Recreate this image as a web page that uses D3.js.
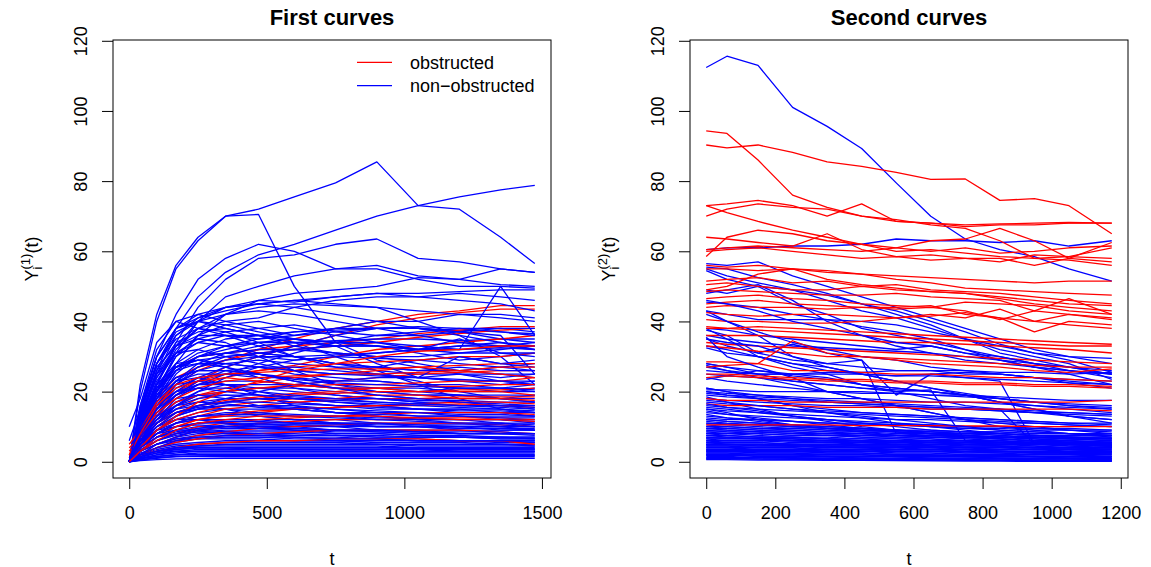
<!DOCTYPE html>
<html lang="en">
<head>
<meta charset="UTF-8">
<title>First and second curves</title>
<script src="https://d3js.org/d3.v7.min.js"></script>
<style>
  body { margin: 0; background: #fff; }
  svg { display: block; font-family: "Liberation Sans", Arial, Helvetica, sans-serif; }
  .tick text { font-size: 18px; fill: #000; }
  .tick line { stroke: #000; }
</style>
</head>
<body>
<svg width="1151" height="567"></svg>
<script>
// time grids
const t1 = [0, 40, 100, 170, 250, 350, 470, 600, 750, 900, 1050, 1200, 1350, 1474];
const t2 = [0, 60, 150, 250, 350, 450, 550, 650, 750, 850, 950, 1050, 1174];

// first curves, obstructed
const red1 = [
  [0, 8, 16, 22, 26, 29, 32, 35, 38, 40, 42, 43, 44.5, 44.5],
  [0, 6, 13, 19, 23, 27, 30, 33, 36, 39, 41, 42.5, 43.5, 43.5],
  [1, 10, 20, 27, 30, 31, 32, 33, 34, 35, 36.5, 37.5, 38.5, 38.5],
  [0, 9, 18, 24, 27, 29, 31, 32, 33, 34, 35.5, 36.5, 37.5, 38],
  [0, 7, 14, 19, 22, 24, 26, 27.5, 30, 32, 33, 34, 35, 36],
  [2, 8, 15, 20, 23, 25, 26, 27, 28, 28.5, 29, 30, 30, 31],
  [0, 6, 12, 16, 19, 21, 22.5, 24, 25, 26, 27, 27.5, 28, 28],
  [0, 5, 11, 15, 18, 20, 21, 22, 23, 24, 25, 25.5, 26, 26],
  [3, 7, 13, 17, 19, 20, 21, 21.5, 22, 22, 22.5, 23, 23, 24],
  [0, 5, 10, 14, 16, 17.5, 18.5, 19.5, 20, 21, 21.5, 21.5, 22, 22],
  [0, 6, 11, 14, 16, 17, 18, 19, 19.5, 20, 20, 20.5, 20.5, 21],
  [0, 4, 8, 11, 13, 15, 16, 17, 17.5, 18, 18, 18.5, 18.5, 18.5],
  [0, 4, 8, 10, 12, 13, 14, 15, 15.5, 16, 16, 16.5, 16, 15.5],
  [0, 3, 6, 8, 10, 11, 12, 12.5, 13, 13.5, 14, 14, 14, 13.5],
  [0, 3, 5, 7, 9, 10, 11, 11.5, 12, 12, 12.5, 12.5, 12.5, 12],
  [0, 2, 4, 6, 7.5, 8.5, 9.5, 10, 10.5, 11, 11, 11, 10.5, 10],
  [0, 2, 4, 5.5, 6.5, 7.5, 8, 8.5, 9, 9, 9, 9, 8.5, 8],
  [0, 2, 3, 4, 5, 5.5, 6, 6, 6.5, 6.5, 6.5, 6, 6, 5],
  [0, 5, 9, 12, 14, 16, 17, 18, 18, 19, 19, 18, 18, 17.5],
  [4, 7, 14, 18, 21, 23, 24, 24.5, 25, 25, 25.5, 26, 27, 27],
  [0, 3, 7, 10, 12, 13.5, 14.5, 15, 15.5, 16, 16.5, 17, 17, 16.5],
  [5, 9, 17, 22, 24, 25, 25.5, 26, 26.5, 26.5, 27, 26, 25, 24],
  [0, 4, 9, 13, 17, 20, 23, 26, 28, 30, 31.5, 32, 33, 33],
  [2, 8, 16, 21, 23, 24, 23, 22, 21, 21, 20, 20, 20, 19],
  [0, 3, 6, 9, 11, 12, 13, 13, 13, 13, 12.5, 12, 12, 11.5]
];

// first curves, non-obstructed
const blue1 = [
  [0, 22, 42, 56, 64, 70, 72, 75.5, 79.5, 85.5, 73, 72, 64, 56.5],
  [0, 20, 40, 55, 63, 70, 70.5, 50, 34, 29, 27, 25, 23, 22],
  [0, 12, 26, 38, 47, 54, 59, 62, 66, 70, 73, 75.5, 77.5, 78.8],
  [0, 10, 22, 34, 44, 52, 58, 59, 62, 63.5, 58, 57, 55, 54],
  [0, 14, 30, 42, 52, 58, 62, 60, 55, 56, 53, 52, 55, 54],
  [0, 9, 20, 31, 40, 47, 50, 53, 55, 55, 52, 50, 50, 49.5],
  [0, 8, 18, 28, 36, 42, 46, 48, 49, 50, 52.5, 52, 50.5, 50],
  [0, 12, 25, 36, 41, 44, 45, 46, 47, 48, 48, 48.5, 49, 49],
  [0, 15, 30, 38, 41, 43, 45, 46, 45, 44, 40, 36, 30, 22],
  [0, 10, 22, 33, 40, 44, 46, 45.5, 47, 48, 47, 46, 45, 43],
  [0, 16, 32, 40, 42, 40, 38, 36, 38, 40, 40, 42, 41, 40],
  [10, 18, 34, 40, 38, 36, 33, 30, 27, 25, 23, 20, 18, 17],
  [0, 14, 28, 37, 40, 38, 36, 34, 30, 26, 22, 18, 15, 14],
  [0, 12, 25, 33, 36, 36, 35, 36, 37, 38, 38, 37.5, 37, 36.5],
  [0, 11, 23, 31, 35, 37, 38, 39, 37, 36, 36, 37, 35, 35],
  [0, 13, 26, 34, 37, 38, 36, 33, 31, 30, 30, 31, 32, 33],
  [0, 10, 20, 28, 32, 35, 36, 37, 37.5, 38, 38, 37, 38, 37],
  [0, 9, 19, 27, 31, 33, 34, 34, 34.5, 35, 35, 34.5, 35, 34],
  [0, 8, 17, 25, 30, 32, 34, 35, 34, 33, 31, 29, 30, 31],
  [0, 12, 24, 31, 34, 33, 31, 30, 30.5, 31, 32, 32, 32.5, 32],
  [6, 15, 28, 35, 38, 37, 34, 30, 28, 27, 29, 30, 28, 29],
  [0, 9, 18, 26, 30, 31, 30, 29, 30, 29.5, 29, 28, 27, 28],
  [0, 10, 20, 27, 29, 30, 31, 32, 31, 30, 28, 26, 27, 26],
  [0, 8, 16, 23, 27, 29, 30, 30, 28, 26, 25, 25, 24, 25],
  [0, 13, 25, 31, 32, 30, 28, 26, 25, 25, 24, 23, 22, 23],
  [0, 7, 15, 22, 26, 28, 29, 28, 27, 27, 26, 26, 25, 24],
  [0, 11, 21, 27, 29, 28, 27, 25, 24, 23, 22, 22, 21, 22],
  [0, 6, 13, 19, 23, 26, 27, 27, 26, 25, 24, 23, 23, 22],
  [0, 9, 17, 23, 25, 25, 24, 24, 23, 23, 22, 21, 21, 20],
  [0, 14, 27, 33, 35, 34, 30, 26, 22, 20, 19, 19, 18, 19],
  [0, 8, 15, 21, 24, 25, 25, 24, 22, 21, 21, 20, 20, 20],
  [0, 10, 19, 24, 26, 26, 25, 23, 21, 20, 19, 19, 18, 18],
  [0, 7, 14, 19, 22, 23, 23, 22, 21, 20, 20, 19, 19, 19],
  [0, 6, 12, 17, 20, 22, 22, 22, 21, 21, 20, 21, 20, 21],
  [0, 12, 22, 28, 29, 27, 24, 21, 19, 18, 17, 16, 16, 15],
  [0, 8, 16, 20, 22, 22, 21, 20, 19, 18, 17, 17, 16, 16],
  [0, 5, 11, 16, 19, 20, 21, 21, 20, 19, 18, 18, 18, 17],
  [0, 9, 17, 22, 23, 22, 20, 18, 17, 16, 15, 15, 14, 14],
  [0, 7, 13, 17, 19, 19, 18, 17, 16, 16, 15, 15, 15, 14],
  [0, 6, 11, 15, 17, 18, 18, 17, 16, 15, 15, 14, 14, 13],
  [0, 10, 18, 23, 24, 22, 19, 16, 14, 13, 12, 12, 11, 11],
  [0, 5, 10, 13, 15, 16, 16, 16, 15, 14, 14, 13, 13, 13],
  [0, 8, 14, 18, 19, 18, 16, 15, 14, 13, 12, 12, 12, 11],
  [0, 4, 9, 12, 14, 15, 15, 15, 14, 14, 13, 13, 12, 12],
  [0, 6, 11, 14, 15, 15, 14, 13, 13, 12, 12, 11, 11, 10],
  [0, 5, 9, 12, 13, 13, 13, 12, 12, 11, 11, 11, 10, 10],
  [0, 7, 12, 15, 16, 15, 13, 12, 11, 10, 10, 9, 9, 9],
  [0, 4, 8, 11, 12, 12, 12, 12, 11, 11, 10, 10, 10, 9],
  [0, 3, 7, 10, 11, 12, 12, 11, 11, 10, 10, 10, 9, 9],
  [0, 5, 9, 11, 12, 11, 11, 10, 10, 9, 9, 9, 8, 8],
  [0, 4, 7, 9, 10, 10, 10, 10, 9, 9, 9, 8, 8, 8],
  [0, 3, 6, 8, 9, 9.5, 9.5, 9, 9, 8.5, 8.5, 8, 8, 7.5],
  [0, 6, 10, 12, 12, 11, 10, 9, 8, 8, 7.5, 7, 7, 7],
  [0, 3, 5, 7, 8, 8.5, 8.5, 8.5, 8, 8, 7.5, 7.5, 7, 7],
  [0, 2, 5, 6.5, 7.5, 8, 8, 8, 7.5, 7.5, 7, 7, 6.5, 6.5],
  [0, 4, 7, 8, 8.5, 8, 7.5, 7, 7, 6.5, 6.5, 6, 6, 6],
  [0, 2, 4, 5.5, 6.5, 7, 7, 7, 6.5, 6.5, 6, 6, 6, 5.5],
  [0, 3, 5, 6, 6.5, 6.5, 6.5, 6, 6, 5.5, 5.5, 5.5, 5, 5],
  [0, 2, 3.5, 4.5, 5, 5.5, 5.5, 5.5, 5.5, 5, 5, 5, 5, 4.5],
  [0, 1.5, 3, 4, 4.5, 5, 5, 5, 5, 5, 4.5, 4.5, 4.5, 4.5],
  [0, 2, 3, 3.5, 4, 4, 4, 4, 4, 4, 4, 3.5, 3.5, 3.5],
  [0, 1, 2, 3, 3.5, 3.5, 3.5, 3.5, 3.5, 3.5, 3.5, 3, 3, 3],
  [0, 1, 1.5, 2, 2.5, 2.5, 2.5, 2.5, 2.5, 2.5, 2.5, 2.5, 2.5, 2.5],
  [0, 0.5, 1, 1.5, 1.5, 1.5, 1.5, 1.5, 1.5, 1.5, 1.5, 1.5, 1.5, 1.5],
  [0, 0.3, 0.6, 0.8, 0.9, 1, 1, 1, 1, 1, 1, 1, 1, 1],
  [0, 1.5, 2.5, 3, 3, 3, 3, 3, 3, 3, 2.8, 2.8, 2.8, 2.8],
  [0, 2.5, 4, 5, 5.5, 6, 6, 6, 6, 6, 6, 6, 5.5, 5.5],
  [0, 3.5, 6, 7.5, 8.5, 9, 9, 9, 8.5, 8.5, 8, 8, 8, 8],
  [0, 4.5, 8, 10, 11, 11, 10.5, 10.5, 10, 10, 10, 9.5, 9.5, 9.5],
  [0, 6, 12, 16, 18, 19, 19, 18.5, 18, 18, 17.5, 17.5, 17, 17],
  [0, 11, 21, 27, 30, 31, 32, 32, 33, 33, 32, 33, 34, 33],
  [0, 9, 20, 30, 36, 39, 40, 38, 36, 34, 32, 35, 31, 30],
  [0, 13, 28, 38, 40, 39, 37, 35, 33, 28, 24, 30, 28, 27],
  [0, 10, 21, 30, 34, 36, 36, 35, 34, 34, 33, 32, 50, 36],
  [0, 9, 18, 26, 30, 33, 35, 37, 38, 38, 38, 37, 36, 25],
  [0, 7, 14, 20, 24, 27, 30, 33, 36, 38, 38.5, 38, 37, 36],
  [0, 6, 12, 18, 22, 25, 28, 31, 34, 36, 37, 38, 38, 38],
  [0, 5, 11, 16, 20, 24, 27, 29, 30, 31, 32, 33, 33, 34],
  [0, 8, 16, 23, 28, 31, 33, 34, 33, 33, 32, 31, 31, 31],
  [0, 4, 9, 13, 16, 18, 20, 22, 23, 24, 24, 25, 25, 25],
  [0, 12, 24, 33, 38, 40, 41, 44, 46, 47, 47, 48, 47, 46],
  [0, 16, 30, 38, 42, 44, 45, 44, 42, 40, 38, 36, 34, 32],
  [0, 10, 22, 32, 38, 42, 44, 45, 44.5, 44, 43, 42, 42, 41],
  [0, 14, 28, 36, 40, 42, 43, 42, 40, 38, 36, 34, 33, 32],
  [0, 7, 15, 22, 27, 30, 31, 30, 28, 27, 26, 27, 26, 26],
  [0, 5, 10, 14, 16, 17, 17, 16.5, 16, 15.5, 15, 14.5, 14.5, 14],
  [0, 4, 8, 11, 13, 14, 14, 13.5, 13, 12.5, 12.5, 12, 12, 11.5],
  [0, 3, 7, 9, 11, 11.5, 11.5, 11, 11, 10.5, 10.5, 10, 10, 10],
  [0, 6, 9, 10, 10.5, 10, 9.5, 9.5, 9, 9, 8.5, 8.5, 8.5, 8],
  [0, 2, 4, 6, 7, 7.5, 7.5, 7.5, 7.5, 7, 7, 7, 7, 6.5],
  [0, 3, 5, 6.5, 7, 7, 7, 6.5, 6.5, 6.5, 6, 6, 6, 6],
  [0, 1.5, 3, 4, 4.5, 4.5, 4.5, 4.5, 4.5, 4.5, 4, 4, 4, 4],
  [0, 1, 2, 2.5, 3, 3, 3, 3, 3, 3, 3, 3, 3, 3],
  [0, 0.8, 1.5, 2, 2, 2, 2, 2, 2, 2, 2, 2, 2, 2],
  [0, 5, 9, 13, 15, 17, 18, 18, 17.5, 17, 16.5, 16, 16, 15.5],
  [0, 7, 13, 16, 17, 16.5, 15.5, 15, 14, 13.5, 13, 13, 12.5, 12.5],
  [0, 8, 15, 19, 21, 21, 20, 19, 18, 17, 16.5, 16, 15.5, 15],
  [0, 4, 8, 11, 13, 13.5, 13.5, 13, 12.5, 12, 11.5, 11, 11, 10.5],
  [0, 2, 5, 7, 9, 10, 10.5, 10.5, 10.5, 10, 10, 9.5, 9.5, 9],
  [0, 3, 6, 8, 9.5, 10.5, 11, 11, 11, 11, 10.5, 10.5, 10.5, 10],
  [0, 5, 8, 9, 9, 8.5, 8, 7.5, 7.5, 7, 7, 7, 6.5, 6.5],
  [0, 2, 3, 4, 4, 4, 3.5, 3.5, 3.5, 3.5, 3.5, 3.5, 3.5, 3.5],
  [0, 9, 16, 20, 21, 20, 19, 18, 17, 16.5, 16, 15.5, 15, 14.5],
  [0, 6, 11, 14, 15.5, 16, 16, 15.5, 15, 14.5, 14, 13.5, 13.5, 13],
  [0, 11, 19, 24, 26, 26, 25, 23.5, 22.5, 22, 21.5, 21, 21, 20.5],
  [0, 10, 20, 26, 28, 28, 27, 26, 25, 24.5, 24, 23.5, 23, 23],
  [0, 4, 7, 8.5, 9.5, 10, 10, 9.5, 9, 9, 8.5, 8, 8, 8],
  [0, 1.2, 2.5, 3.5, 4, 4, 4, 4, 4, 4, 3.8, 3.8, 3.8, 3.8],
  [0, 0.6, 1.2, 1.5, 1.7, 1.8, 1.8, 1.8, 1.8, 1.8, 1.8, 1.8, 1.8, 1.8],
  [0, 12, 22, 27, 28, 27, 25, 23, 21, 19, 18, 17, 16.5, 16]
];

// second curves, obstructed
const red2 = [
  [94.3, 93.6, 86, 76, 72.5, 70, 68.5, 68, 67.5, 67.8, 68, 68.2, 68],
  [90.3, 89.5, 90.3, 88.2, 85.5, 84.2, 82.5, 80.5, 80.6, 74.5, 75, 73, 65],
  [73, 73.5, 74.5, 73, 70, 73.5, 68.5, 68, 67, 67.5, 67.5, 68, 68],
  [70, 72, 73.5, 72.5, 72, 70, 69, 67.5, 66.5, 63, 58, 58.5, 61],
  [73, 71, 68.5, 66, 64, 62, 61, 60, 61, 59.5, 60, 61, 61.5],
  [64, 63.5, 62.5, 61.5, 65, 60.5, 58.5, 59, 58, 57, 59, 58.5, 58],
  [58.5, 64, 66, 65, 63, 62, 60, 60.5, 59.5, 58.5, 58, 57.5, 56],
  [60.5, 61, 61.5, 61, 60.5, 60, 61, 63, 63.5, 66.5, 63, 58, 62.5],
  [60, 60.5, 61, 60, 59, 58, 58.5, 57.5, 58, 58, 56, 58, 57],
  [56, 55.5, 56, 55, 54, 53.5, 53, 52.5, 52, 51.5, 51, 51.5, 51.5],
  [55, 55, 54.5, 55, 54.5, 53.5, 52, 51, 49.5, 49, 48.5, 48, 47.5],
  [51.5, 52, 52.5, 51, 51.5, 50, 50.5, 49, 48.5, 48, 47, 46, 45],
  [50.5, 51, 50, 49, 49, 50, 49, 48.5, 48, 47, 46, 45, 44.5],
  [49, 50, 53.5, 55, 52, 50.5, 49.5, 48.5, 48, 46.5, 45, 44, 43],
  [48.5, 49, 48.5, 48, 47.5, 47.5, 48, 47, 46.5, 46, 43, 46.5, 42],
  [45, 45.5, 46, 45, 44.5, 44, 43.5, 44, 43, 40.5, 43, 42, 41],
  [44, 44.5, 44, 44, 43.5, 44, 44, 44.5, 42, 41, 37, 40, 39],
  [42.5, 42, 41.5, 42, 42, 41.5, 41, 41.5, 42.5, 41, 40, 39, 38],
  [40.5, 40, 40, 39.5, 39.5, 40, 41, 42, 41, 43.5, 40, 42, 40.5],
  [38.5, 38, 37.5, 37, 36.5, 36, 35.5, 35, 34.5, 34, 33.5, 33, 33],
  [36, 36, 36, 35.5, 35, 34.5, 34, 34, 33.5, 33, 32.5, 32, 31],
  [34, 33.5, 33, 32.5, 32, 31.5, 31, 30.5, 30, 29.5, 29, 28.5, 28],
  [33, 32.5, 31.5, 31, 30, 30, 29.5, 29, 28.5, 28, 27.5, 27, 27],
  [28.5, 28.5, 28, 26, 26, 25.5, 25, 25, 24.5, 24, 24, 23.5, 23],
  [27, 27.5, 28, 34.5, 31, 30, 29, 28, 27.5, 27, 26, 25.5, 26.5],
  [25, 25, 24.5, 24, 23.5, 23.5, 23, 23, 22.5, 22.5, 22, 22, 21.5],
  [24, 24.5, 24, 23.5, 23, 23, 22.5, 22.5, 22, 22, 21.5, 21.5, 21],
  [18, 17.5, 17.5, 17, 17, 17, 17, 17, 17, 17, 17, 17, 17.5],
  [16.5, 16, 16, 16, 15.5, 15.5, 15.5, 15, 15, 15, 15, 15, 14.5],
  [10.5, 10.5, 10.5, 10.5, 10.5, 10.3, 10.3, 10.3, 10.2, 10.2, 10, 10, 10],
  [46.5, 47, 47.5, 46.5, 46, 45, 44.5, 44, 45.5, 45, 44.5, 43, 42],
  [38, 38, 38.5, 38, 37.5, 37, 36.5, 36, 35.5, 35, 34.5, 34, 33.5]
];

// second curves, non-obstructed
const blue2 = [
  [112.4, 115.6, 113, 101, 95.6, 89.3, 79.5, 70, 63.5, 60.5, 58.5, 55, 51.5],
  [60.5, 61, 61, 61.5, 61.5, 62, 63.5, 63, 63, 62.5, 63, 61.5, 63],
  [56.5, 56, 57, 53, 50, 47, 44, 41, 38, 35, 32, 30, 28],
  [55.5, 55, 52.5, 50.5, 48, 45, 43, 40, 37, 33.5, 31, 29, 25.5],
  [55, 53, 51, 49, 46, 43, 41, 38, 35, 32, 30, 28, 23.5],
  [54.5, 52, 50, 45, 42, 38, 36, 34, 32, 30, 28, 26, 24],
  [49, 48, 50, 49, 47.5, 45, 42, 39, 35, 31, 29, 27, 25],
  [48, 49, 50.5, 46, 40, 36, 33, 31, 29, 28, 27, 26, 25],
  [45.5, 45, 44, 42, 40.5, 38.5, 37, 35, 32, 29, 27, 25, 22],
  [43, 42, 40.5, 40.5, 40.5, 40, 39, 37, 35, 33, 31, 30, 29.5],
  [43, 40, 36, 30, 28, 27, 26, 26, 25, 25, 24, 23, 22],
  [38, 37.5, 36, 35, 34, 33, 32, 33, 31, 29, 27, 26, 25],
  [37.5, 36, 31, 33.5, 31, 29, 19, 25, 25.5, 25, 24, 22.5, 21],
  [36, 35, 34, 33, 32.5, 32, 31.5, 31, 30, 29, 28, 27, 26],
  [35, 33, 31, 29, 28, 29, 8, 7.5, 7, 6.5, 6, 5.5, 5],
  [33, 32, 30, 28, 26, 25, 24.5, 25, 24, 23, 5, 5, 4.5],
  [28, 27, 25, 23, 22, 21, 20.5, 20, 19, 17, 15, 13, 12],
  [27, 26, 25, 25, 25, 25, 24.5, 24.5, 24, 23.5, 23, 22.5, 22],
  [26, 25.5, 25, 25, 25.5, 25.5, 26, 26, 26, 25.5, 25.5, 25, 25.5],
  [24, 23, 22, 21, 20, 20, 19.5, 19, 18.5, 18, 17, 16, 15],
  [25, 24.5, 24, 23, 22, 21, 20, 20.5, 6, 5.5, 5, 5, 4.5],
  [20.5, 20.5, 20, 20, 20, 19.5, 19.5, 19, 19, 18.5, 18, 17.5, 17.5],
  [20, 19.5, 19, 18.5, 18, 18, 17.5, 17, 17, 16.5, 16, 15.5, 15],
  [21, 20, 19, 18, 17, 16.5, 16, 15.5, 15, 14.5, 14, 13.5, 13],
  [19.5, 19, 18.5, 18, 17.5, 17, 16.5, 16, 15.5, 15, 14.5, 14, 13.5],
  [20, 19, 18, 16, 15, 14, 13.5, 13, 12.5, 12, 11.5, 11, 10.5],
  [19, 18.5, 18, 17.5, 17, 16.5, 16, 15.5, 15, 15, 5, 4.5, 4],
  [18, 17.5, 17, 16.5, 16, 16, 15.5, 15, 15, 14.5, 14, 14, 13.5],
  [17, 16.5, 16, 15, 14.5, 14, 13.5, 13, 12.5, 12, 11.5, 11, 11],
  [16, 15.5, 15, 14.5, 14, 13.5, 13, 12.5, 12, 11.5, 11, 10.5, 10],
  [15.5, 15, 14, 13, 12, 11, 10.5, 10, 9.5, 9, 8.5, 8, 7.5],
  [15, 14.5, 14, 13.5, 13, 12.5, 12, 12, 11.5, 11, 11, 10.5, 10],
  [14, 13.5, 13, 12.5, 12, 11.5, 11, 10.5, 10, 10, 9.5, 9, 9],
  [13.5, 12.5, 11.5, 10.5, 10, 9.5, 9, 8.5, 8, 7.5, 7, 7, 6.5],
  [13, 12.5, 12, 11.5, 11, 10.5, 10.5, 10, 9.5, 9.5, 9, 9, 8.5],
  [12, 11.5, 11, 10.5, 10, 9.5, 9, 8.5, 8, 8, 7.5, 7, 7],
  [11.5, 11, 10.5, 10, 9.5, 9, 8.5, 8, 8, 7.5, 7, 6.5, 6],
  [11, 10.5, 10, 9.5, 9, 8.5, 8, 8, 7.5, 7, 7, 6.5, 6.5],
  [10.5, 10, 9.5, 9, 8.5, 8, 7.5, 7, 7, 6.5, 6, 6, 5.5],
  [10, 9.5, 9, 8.5, 8, 7.5, 7.5, 7, 6.5, 6.5, 6, 5.5, 5.5],
  [9.5, 9, 8.5, 8, 7.5, 7, 7, 6.5, 6, 6, 5.5, 5, 5],
  [9, 8.5, 8, 7.5, 7.5, 7, 6.5, 6.5, 6, 5.5, 5.5, 5, 4.5],
  [8.5, 8, 7.5, 7, 7, 6.5, 6, 6, 5.5, 5, 5, 4.5, 4.5],
  [8, 7.5, 7, 7, 6.5, 6, 6, 5.5, 5, 5, 4.5, 4, 4],
  [7.5, 7, 7, 6.5, 6, 6, 5.5, 5, 5, 4.5, 4.5, 4, 3.5],
  [7, 6.5, 6.5, 6, 6, 5.5, 5, 5, 4.5, 4.5, 4, 3.5, 3.5],
  [6.5, 6, 6, 5.5, 5.5, 5, 5, 4.5, 4, 4, 3.5, 3.5, 3],
  [6, 5.5, 5.5, 5, 5, 4.5, 4.5, 4, 4, 3.5, 3.5, 3, 3],
  [5.5, 5, 5, 4.5, 4.5, 4, 4, 3.5, 3.5, 3, 3, 2.5, 2.5],
  [5, 5, 4.5, 4.5, 4, 4, 3.5, 3.5, 3, 3, 2.5, 2.5, 2],
  [4.5, 4.5, 4, 4, 3.5, 3.5, 3, 3, 2.5, 2.5, 2, 2, 1.5],
  [4, 4, 3.5, 3.5, 3, 3, 2.5, 2.5, 2, 2, 1.5, 1.5, 1.5],
  [3.5, 3.5, 3, 3, 2.5, 2.5, 2, 2, 1.5, 1.5, 1.5, 1, 1],
  [3, 3, 2.5, 2.5, 2, 2, 1.5, 1.5, 1.5, 1, 1, 1, 0.8],
  [2.5, 2.5, 2, 2, 1.5, 1.5, 1.5, 1, 1, 1, 0.8, 0.8, 0.5],
  [2, 2, 1.5, 1.5, 1.5, 1, 1, 1, 0.8, 0.8, 0.5, 0.5, 0.5],
  [1.5, 1.5, 1.2, 1, 1, 1, 0.8, 0.8, 0.5, 0.5, 0.5, 0.3, 0.3],
  [1, 1, 0.8, 0.8, 0.6, 0.6, 0.5, 0.5, 0.4, 0.3, 0.3, 0.2, 0.2],
  [0.6, 0.6, 0.5, 0.5, 0.4, 0.4, 0.3, 0.3, 0.2, 0.2, 0.1, 0.1, 0.1],
  [7, 7, 6.5, 6.5, 6, 6, 6, 5.5, 5.5, 5.5, 5, 5, 5],
  [5, 5, 5, 5, 4.5, 4.5, 4.5, 4.5, 4, 4, 4, 4, 4],
  [3, 3, 3, 3, 3, 3, 2.8, 2.8, 2.8, 2.5, 2.5, 2.5, 2.5],
  [8, 8, 8, 7.5, 7.5, 7.5, 7, 7, 7, 7, 7, 6.5, 6.5],
  [6, 6, 6, 6, 5.5, 5.5, 5.5, 5.5, 5, 5, 5, 5, 5],
  [4, 4, 4, 4, 3.5, 3.5, 3.5, 3.5, 3.5, 3, 3, 3, 3],
  [2, 2, 2, 2, 2, 2, 1.8, 1.8, 1.8, 1.8, 1.5, 1.5, 1.5],
  [9.5, 9.5, 9, 9, 8.5, 8.5, 8.5, 8, 8, 8, 7.5, 7.5, 7.5],
  [12.5, 12, 12, 11.5, 11, 11, 10.5, 10.5, 10, 10, 9.5, 9.5, 9],
  [28, 27, 26, 24.5, 23.5, 22, 21, 20, 19, 18, 17, 16, 15.5],
  [23.5, 24.5, 26, 25, 24, 22, 21, 20, 19, 17, 15, 13, 11],
  [46, 45, 43, 40, 38, 36, 34, 33, 31, 30, 28, 27, 25],
  [38, 35, 30, 27, 25, 22, 20, 18, 16, 15, 14, 13, 12],
  [42, 40, 37, 34, 32, 30, 29, 27, 26, 25, 24, 23.5, 23],
  [35, 34, 33, 30, 27, 25, 23, 21, 19, 17, 16, 15, 14],
  [27.5, 26, 24, 22, 20, 18, 16, 14, 12, 10, 9, 8, 7],
  [21, 20, 18, 16, 14, 12.5, 11, 10, 9, 8, 7.5, 7, 6.5],
  [18.5, 17, 15, 13, 11.5, 10, 9, 8, 7, 6.5, 6, 5.5, 5],
  [15, 14, 12, 10.5, 9.5, 8.5, 7.5, 7, 6.5, 6, 5.5, 5, 4.5],
  [32.5, 31, 30, 28, 27, 25, 23, 21, 19.5, 18, 17, 16.5, 16],
  [35.5, 30, 27, 24, 20, 18, 16, 14, 12, 11, 10, 9, 8],
  [11, 10.8, 10.5, 10, 9.5, 9.5, 9, 9, 8.5, 8.5, 8, 8, 7.5],
  [9, 9, 8.5, 8.5, 8, 8, 7.5, 7.5, 7, 7, 6.5, 6.5, 6],
  [7.5, 7.5, 7, 7, 6.5, 6.5, 6.5, 6, 6, 6, 5.5, 5.5, 5.5],
  [6.5, 6.5, 6.5, 6, 6, 6, 5.5, 5.5, 5.5, 5, 5, 5, 4.5],
  [5.5, 5.5, 5.5, 5, 5, 5, 5, 4.5, 4.5, 4.5, 4, 4, 4],
  [4.5, 4.5, 4.5, 4.5, 4, 4, 4, 4, 3.5, 3.5, 3.5, 3.5, 3],
  [3.5, 3.5, 3.5, 3.5, 3.5, 3, 3, 3, 3, 3, 2.5, 2.5, 2.5],
  [2.5, 2.5, 2.5, 2.5, 2.5, 2.5, 2.2, 2.2, 2.2, 2, 2, 2, 2],
  [1.2, 1.2, 1.2, 1.2, 1.1, 1.1, 1, 1, 1, 1, 0.9, 0.9, 0.9],
  [0.8, 0.8, 0.8, 0.7, 0.7, 0.7, 0.6, 0.6, 0.6, 0.5, 0.5, 0.5, 0.5],
  [12, 11.5, 11, 10, 9.5, 9, 8.5, 8, 7.5, 7, 6.5, 6, 5.5],
  [14.5, 13.5, 12.5, 11.5, 10.5, 9.5, 8.5, 8, 7.5, 7, 6.5, 6, 5.5],
  [16.5, 15.5, 14.5, 13, 12, 11, 10, 9, 8.5, 8, 7.5, 7, 6.5],
  [10, 10, 9.5, 9.5, 9, 9, 9, 8.5, 8.5, 8.5, 8, 8, 8],
  [8.5, 8.5, 8.5, 8, 8, 8, 7.5, 7.5, 7.5, 7, 7, 7, 7],
  [6.8, 6.8, 6.5, 6.5, 6.5, 6, 6, 6, 6, 5.5, 5.5, 5.5, 5.5],
  [4.8, 4.8, 4.8, 4.5, 4.5, 4.5, 4.5, 4.2, 4.2, 4.2, 4, 4, 4],
  [3.2, 3.2, 3.2, 3.2, 3, 3, 3, 3, 2.8, 2.8, 2.8, 2.6, 2.6],
  [1.8, 1.8, 1.7, 1.7, 1.6, 1.6, 1.5, 1.5, 1.4, 1.4, 1.3, 1.3, 1.2],
  [17.5, 17, 16, 15, 14, 13, 12, 11, 10, 9, 8.5, 8, 7.5]
];

const yTicks = [0, 20, 40, 60, 80, 100, 120];
const xTicks1 = [0, 500, 1000, 1500];
const xTicks2 = [0, 200, 400, 600, 800, 1000, 1200];
const legendLabels = ['obstructed', 'non\u2212obstructed'];
const groupColors = ['red', 'blue'];

const svg = d3.select('svg');
const plotTop = 40, plotBottom = 478;

// R style: usr range is the data range stretched by 4% on each side
function usr(ext) {
    const d = (ext[1] - ext[0]) * 0.04;
    return [ext[0] - d, ext[1] + d];
}

const allY = [red1, blue1, red2, blue2].flat(2);
const y = d3.scaleLinear()
    .domain(usr([0, d3.max(allY)]))
    .range([plotBottom, plotTop]);

function panel(opts) {
    const { left, right, t, reds, blues, xTicks, title, sup } = opts;
    const g = svg.append('g');
    const x = d3.scaleLinear().domain(usr(d3.extent(t))).range([left, right]);

    const line = d3.line()
        .defined((d, i) => i < t.length)
        .x((d, i) => x(t[i]))
        .y(d => y(d));

    // mix the two groups so the colours overlap as in the original
    const curves = [];
    const step = blues.length / reds.length;
    let r = 0;
    blues.forEach((b, i) => {
        curves.push({ v: b, c: groupColors[1] });
        while (r < reds.length && (r + 1) * step <= i + 1) {
            curves.push({ v: reds[r], c: groupColors[0] });
            r++;
        }
    });
    while (r < reds.length) curves.push({ v: reds[r++], c: groupColors[0] });

    g.append('g').selectAll('path')
        .data(curves)
        .join('path')
        .attr('d', d => line(d.v))
        .attr('fill', 'none')
        .attr('stroke', d => d.c)
        .attr('stroke-width', 1.3)
        .attr('stroke-linejoin', 'round');

    // box
    g.append('rect')
        .attr('x', left).attr('y', plotTop)
        .attr('width', right - left).attr('height', plotBottom - plotTop)
        .attr('fill', 'none').attr('stroke', '#000').attr('stroke-width', 1);

    const xa = g.append('g')
        .attr('transform', `translate(0,${plotBottom})`)
        .call(d3.axisBottom(x).tickValues(xTicks).tickSize(11).tickFormat(d3.format('d')));
    xa.select('.domain').remove();
    xa.selectAll('text').attr('y', 41).attr('dy', 0);

    const ya = g.append('g')
        .attr('transform', `translate(${left},0)`)
        .call(d3.axisLeft(y).tickValues(yTicks).tickSize(11));
    ya.select('.domain').remove();
    ya.selectAll('text')
        .attr('transform', 'rotate(-90)')
        .attr('x', 0).attr('y', -26.5).attr('dy', 0)
        .attr('text-anchor', 'middle');

    const cx = (left + right) / 2;
    g.append('text')
        .attr('x', cx).attr('y', 24.5)
        .attr('text-anchor', 'middle')
        .style('font-size', '22px').style('font-weight', 'bold')
        .text(title);

    g.append('text')
        .attr('x', cx).attr('y', 564.5)
        .attr('text-anchor', 'middle')
        .style('font-size', '18px')
        .text('t');

    // Y_i^(k)(t)
    const yl = g.append('text')
        .attr('transform', `translate(${left - 75},${(plotTop + plotBottom) / 2}) rotate(-90)`)
        .attr('text-anchor', 'middle')
        .style('font-size', '18px');
    yl.append('tspan').text('Y');
    yl.append('tspan').attr('dy', 4).style('font-size', '13px').text('i');
    yl.append('tspan').attr('dx', -3).attr('dy', -12).style('font-size', '13px').text(`(${sup})`);
    yl.append('tspan').attr('dy', 8).text('(t)');

    return { g, x };
}

const p1 = panel({ left: 113, right: 551, t: t1, reds: red1, blues: blue1,
    xTicks: xTicks1, title: 'First curves', sup: 1 });
panel({ left: 690, right: 1128, t: t2, reds: red2, blues: blue2,
    xTicks: xTicks2, title: 'Second curves', sup: 2 });

// legend (no frame)
const leg = p1.g.append('g');
legendLabels.forEach((lab, i) => {
    const ly = 62.3 + i * 23.4;
    leg.append('line')
        .attr('x1', 357).attr('x2', 392).attr('y1', ly).attr('y2', ly)
        .attr('stroke', groupColors[i]).attr('stroke-width', 1.3);
    leg.append('text')
        .attr('x', 410).attr('y', ly + 6.5)
        .style('font-size', '18px')
        .text(lab);
});
</script>
</body>
</html>
